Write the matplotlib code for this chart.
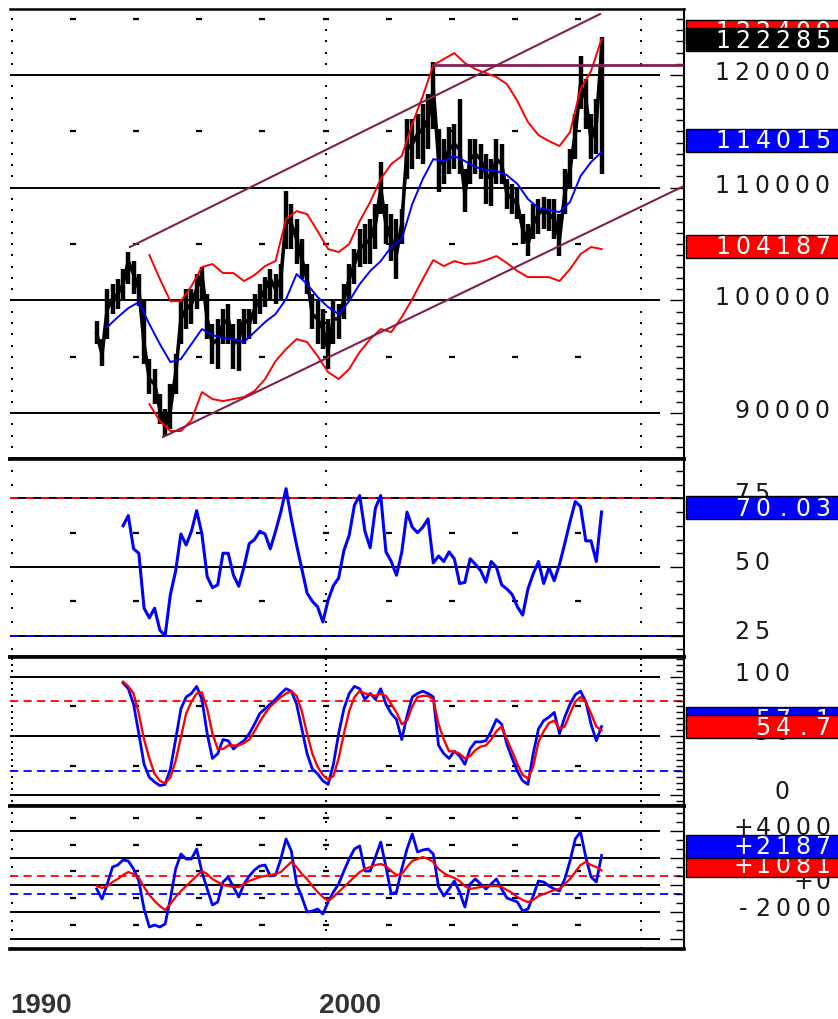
import numpy as np
import matplotlib
matplotlib.use("Agg")
import matplotlib.pyplot as plt
import matplotlib.transforms as mtransforms
from matplotlib.patches import Rectangle
from matplotlib.ticker import MultipleLocator

# ---------------- data (prices in thousands) ----------------
start_year = 1992.75
n_bars = 97
dates = start_year + np.arange(n_bars) / 6.0      # one bar every two months

close = [97.02, 95.24, 99.23, 100.12, 100.57, 101.45, 103.49, 102.34, 101.01, 96.13,
         93.02, 92.58, 90.36, 88.76, 90.36, 93.47, 98.35, 99.23, 99.68, 101.01,
         102.34, 98.35, 96.13, 96.57, 97.90, 98.35, 96.13, 96.57, 98.35, 97.90,
         99.23, 100.12, 101.01, 101.90, 101.01, 101.90, 107.22, 106.78, 105.45, 103.67,
         101.90, 98.79, 98.35, 97.46, 95.68, 98.35, 98.35, 100.12, 101.90, 103.23,
         104.56, 105.00, 105.45, 106.78, 109.88, 106.78, 105.45, 104.11, 106.78, 113.43,
         113.87, 114.76, 115.21, 116.09, 118.76, 112.54, 112.10, 113.43, 113.87, 113.43,
         109.44, 112.54, 112.99, 112.54, 111.21, 110.77, 112.54, 112.10, 109.44, 109.00,
         108.55, 106.33, 105.00, 106.78, 107.66, 108.11, 107.66, 107.22, 105.45, 109.44,
         111.66, 114.76, 119.20, 117.87, 114.32, 115.65, 122.285]
high = [98.17, 96.57, 101.01, 101.45, 101.90, 102.78, 104.29, 103.49, 102.34, 100.12,
        94.80, 93.91, 91.69, 90.36, 92.58, 95.24, 100.12, 101.01, 101.01, 102.34,
        102.96, 100.57, 97.90, 98.35, 99.23, 99.68, 97.90, 98.35, 99.23, 99.23,
        100.57, 101.45, 102.07, 102.78, 102.34, 103.23, 109.70, 108.55, 107.22, 105.45,
        103.23, 100.57, 100.12, 99.23, 98.35, 100.12, 99.68, 101.45, 103.23, 104.56,
        106.33, 106.78, 107.22, 108.55, 112.28, 108.55, 107.66, 107.22, 108.11, 116.09,
        116.09, 116.54, 117.42, 118.31, 121.15, 115.21, 114.32, 115.38, 115.65, 117.87,
        111.66, 114.32, 114.32, 113.87, 112.99, 112.54, 114.32, 113.87, 110.77, 110.33,
        109.88, 107.66, 106.78, 108.55, 109.00, 109.17, 109.00, 109.00, 107.66, 111.66,
        113.43, 116.54, 121.68, 119.64, 116.54, 117.87, 123.37]
low = [96.13, 94.18, 96.57, 98.79, 99.23, 100.12, 101.45, 100.57, 99.50, 94.35,
       91.69, 90.80, 89.03, 87.96, 88.59, 91.69, 96.13, 97.46, 97.90, 99.23,
       100.12, 96.57, 94.35, 93.91, 96.13, 96.13, 93.91, 93.73, 96.13, 96.57,
       97.90, 98.79, 99.41, 100.12, 99.68, 100.12, 104.56, 104.56, 103.23, 101.90,
       100.57, 97.46, 96.13, 95.68, 93.91, 96.13, 96.57, 98.35, 100.12, 101.45,
       102.96, 103.23, 103.23, 104.56, 107.66, 105.00, 103.49, 101.90, 105.00, 110.77,
       111.66, 112.54, 112.10, 113.43, 115.21, 109.62, 110.33, 111.21, 111.66, 111.21,
       107.84, 110.33, 111.21, 110.77, 108.55, 108.37, 110.33, 110.33, 108.11, 107.66,
       107.22, 105.00, 103.94, 105.45, 105.89, 106.33, 106.15, 105.45, 103.94, 107.66,
       109.88, 112.54, 116.98, 115.21, 112.54, 112.99, 111.21]

# moving average and bands, sampled every second bar
band_dates = dates[::2]
nan = np.nan
ma = [nan, 97.64, 98.52, 99.32, 99.85, 97.90, 96.13, 94.53, 94.80, 96.13,
      97.46, 96.93, 96.66, 96.57, 96.31, 97.19, 98.08, 98.79, 100.12, 102.34,
      101.45, 100.30, 99.41, 98.79, 99.94, 101.45, 102.61, 103.49, 104.74, 105.45,
      108.55, 110.77, 112.54, 112.37, 112.81, 112.37, 111.83, 111.57, 111.48, 111.12,
      110.33, 109.00, 108.20, 108.02, 107.84, 108.73, 111.03, 112.28, 113.16]
upper = [nan, nan, nan, nan, nan, 104.03, 101.90, 99.94, 99.94, 101.27,
         102.96, 103.23, 102.43, 102.43, 101.72, 102.25, 103.05, 103.49, 107.22, 107.93,
         107.66, 106.15, 104.56, 104.29, 105.00, 107.04, 108.73, 110.77, 112.10, 112.81,
         115.65, 118.13, 120.88, 121.42, 121.95, 121.06, 120.53, 120.17, 119.82, 119.20,
         117.69, 115.83, 114.67, 114.14, 113.70, 114.94, 118.76, 120.35, 123.19]
lower = [nan, nan, nan, nan, nan, 90.80, 89.30, 88.41, 88.41, 89.38,
         91.87, 91.25, 91.07, 91.25, 91.43, 91.96, 93.02, 94.62, 95.68, 96.57,
         96.31, 95.06, 93.64, 93.02, 93.91, 95.42, 96.57, 97.46, 97.19, 98.52,
         100.12, 101.90, 103.58, 103.05, 103.49, 103.23, 103.32, 103.58, 103.94, 103.32,
         102.61, 102.07, 102.07, 102.07, 101.72, 102.78, 104.11, 104.74, 104.56]

# trend channel and resistance (year, price)
channel_upper = [(1993.80, 104.74), (2008.70, 125.41)]
channel_lower = [(1994.85, 87.88), (2011.36, 110.15)]
resistance = [(2003.41, 120.9), (2011.36, 120.9)]

# indicators start at the sixth bar
ind_dates = dates[5:]
rsi = [65, 68.7, 56.6, 55, 35, 31.5, 35, 27, 25, 40,
       48.5, 62, 58, 63, 70.5, 62, 46.5, 42.5, 43.5, 55,
       55, 47, 43, 50, 58.5, 60, 63, 62, 56.6, 63,
       70, 78.5, 67.5, 58, 49.3, 40.5, 37.5, 35.5, 30, 38,
       43.2, 46, 56, 61.5, 72.5, 76, 63, 57, 71.5, 76,
       55.5, 52, 47, 55.3, 70, 64.5, 62.5, 64.5, 67.5, 51.5,
       54, 52, 55.5, 53, 44, 44.4, 53, 51, 48.7, 44.5,
       52, 50, 43.5, 42, 40, 35.5, 32.5, 42, 47.5, 52,
       44, 49.8, 45, 51, 58.5, 66.5, 73.8, 72, 59.5, 59.5,
       52, 70.03]
stoch_k = [95, 90, 77, 52, 26, 15, 11, 8, 9, 22,
           47, 73, 83, 86, 92, 81, 52, 31, 35, 47,
           46, 39, 43, 46, 52, 60, 69, 73, 77, 81,
           86, 90, 88, 77, 56, 35, 22, 18, 12, 9,
           26, 52, 73, 86, 92, 90, 81, 86, 81, 90,
           77, 69, 64, 47, 67, 83, 86, 88, 86, 83,
           42, 35, 31, 37, 33, 26, 39, 45, 45, 46,
           54, 64, 60, 43, 31, 20, 12, 9, 35, 56,
           63, 66, 70, 52, 66, 77, 85, 88, 79, 60,
           46, 58]
stoch_d = [96, 92, 86, 69, 47, 31, 18, 12, 10, 15,
           29, 49, 69, 79, 86, 87, 73, 52, 39, 39,
           42, 42, 42, 44, 47, 54, 62, 69, 75, 79,
           83, 86, 88, 84, 71, 52, 35, 24, 17, 13,
           16, 31, 52, 71, 83, 88, 86, 85, 84, 86,
           84, 77, 70, 60, 63, 75, 83, 84, 84, 81,
           60, 47, 37, 37, 35, 31, 33, 38, 41, 42,
           47, 54, 58, 47, 37, 26, 17, 14, 24, 45,
           54, 61, 63, 56, 58, 69, 79, 83, 79, 69,
           58, 54.7]
macd = [-296, -1037, 74, 1333, 1481, 1852, 1778, 1185, 296, -1778,
        -3111, -2963, -3111, -2889, -1037, 1185, 2296, 1926, 1926, 2667,
        963, -296, -1481, -1259, 222, 593, -148, -889, 74, 667,
        1111, 1407, 1481, 667, 741, 1926, 3407, 2519, 74, -889,
        -2000, -1926, -1778, -2148, -1259, -519, 74, 1037, 1926, 2667,
        2889, 1037, 1037, 2074, 3185, 1333, -667, -519, 1185, 2667,
        3778, 2444, 2593, 2667, 2296, -148, -815, -296, 296, -519,
        -1630, 74, 444, 74, -296, 74, 444, -296, -963, -1111,
        -1259, -1926, -1778, -815, 296, 222, -74, -296, -444, 444,
        1778, 3407, 3926, 2074, 593, 222, 2187]
macd_signal = [-74, -222, -74, 222, 444, 741, 963, 815, 519, -148,
               -741, -1185, -1556, -1852, -1407, -889, -444, -74, 296, 667,
               1037, 815, 444, 222, 0, -74, -148, -148, 74, 296,
               444, 593, 667, 741, 815, 963, 1333, 1704, 1333, 815,
               444, -74, -519, -889, -1185, -889, -519, -148, 222, 593,
               963, 1185, 1333, 1481, 1556, 1407, 1037, 741, 815, 1333,
               1778, 1926, 2074, 1926, 1704, 1185, 889, 667, 519, 296,
               -74, -296, -222, -148, -74, -74, -74, -148, -370, -593,
               -889, -1111, -1259, -1111, -815, -667, -519, -370, -296, 74,
               444, 963, 1481, 1704, 1481, 1333, 1081]

# right-hand scale labels and last-value boxes
price_ticks = [120, 110, 100, 90]
price_tick_text = ["120000", "110000", "100000", "90000"]
rsi_ticks = [75, 50, 25]
stoch_ticks = [100, 50, 0]
macd_ticks = [4000, 0, -2000]
macd_tick_text = ["+4000", "+0", "-2000"]
year_labels = [1990, 2000]

# ---------------- layout ----------------
W, H = 838, 1020
PX_PER_YEAR = 31.55
X0 = 1990.0
X1 = X0 + 674 / PX_PER_YEAR
GRID_END = X0 + 650 / PX_PER_YEAR
PT = 0.72          # points per pixel at 100 dpi
PITCH = 20         # px per character of the scale font
FSIZE = 17
RED, BLUE, MAROON = "#ff0000", "#0000ff", "#802050"

fig = plt.figure(figsize=(W / 100, H / 100), dpi=100)


def panel(top, bottom):
    ax = fig.add_axes([10 / W, 1 - bottom / H, 674 / W, (bottom - top) / H])
    ax.set_xlim(X0, X1)
    ax.set_xticks([])
    ax.spines["left"].set_visible(False)
    for s in ("top", "bottom"):
        ax.spines[s].set_linewidth(2.6)
    ax.spines["right"].set_linewidth(1.5)
    ax.yaxis.tick_right()
    ax.tick_params(axis="y", which="both", direction="in", labelright=False, width=1)
    ax.tick_params(axis="y", which="major", length=10)
    ax.tick_params(axis="y", which="minor", length=5.5)
    return ax


def decorate(ax, ylim, solid, marks, dot_step, major):
    ax.set_ylim(*ylim)
    ax.yaxis.set_major_locator(MultipleLocator(major))
    ax.yaxis.set_minor_locator(MultipleLocator(dot_step))
    for v in solid:
        ax.hlines(v, X0, GRID_END, color="black", lw=1.4, zorder=1)
    yrs = np.arange(1992, 2010, 2)
    for v in marks:
        ax.plot(yrs, np.full(len(yrs), v), ls="none", marker="_", ms=4.5, mew=1.6,
                color="black", zorder=1)
    dots = np.arange(np.ceil(ylim[0] / dot_step) * dot_step, ylim[1], dot_step)
    for yr in (1990.06, 2000, 2010):
        ax.plot(np.full(len(dots), yr), dots, ls="none", marker="s", ms=1.7, mew=0,
                color="black", zorder=1, clip_on=False)


def spaced(ax, yval, s, right_px, color, up=0, z=4):
    # the old screen font: every character sits in a fixed 20 px cell
    n = len(s)
    for k, ch in enumerate(s):
        cx = right_px - PITCH * (n - 1 - k) - PITCH / 2
        ax.annotate(ch, (1, yval), xycoords=("axes fraction", "data"),
                    xytext=((cx - 684) * PT, up * PT), textcoords="offset points",
                    ha="center", va="center", fontsize=FSIZE, color=color,
                    zorder=z, annotation_clip=False)


def value_box(ax, yval, s, face, z):
    lo, hi = ax.get_ylim()
    ax_px = ax.get_position().height * H
    hh = 23 * (hi - lo) / ax_px
    trans = mtransforms.blended_transform_factory(fig.transFigure, ax.transData)
    ax.add_patch(Rectangle((686 / W, yval - hh / 2), (W - 686) / W + 0.01, hh,
                           transform=trans, facecolor=face, edgecolor="black",
                           lw=1, clip_on=False, zorder=z))
    spaced(ax, yval, s, 833, "white", up=0, z=z + 0.5)


ax_p = panel(10, 460)
ax_r = panel(460, 658)
ax_s = panel(658, 807)
ax_m = panel(807, 950)
ax_p.spines["top"].set_linewidth(1.8)

# ---- price panel ----
decorate(ax_p, (85.93, 125.86), [90, 100, 110, 120], [95, 105, 115, 125], 1.0, 10)
ax_p.vlines(dates, low, high, color="black", lw=3.2, zorder=2)
ax_p.plot(dates, close, color="black", lw=2.6, zorder=2)
ax_p.plot(band_dates, upper, color=RED, lw=1.4, zorder=3)
ax_p.plot(band_dates, lower, color=RED, lw=1.4, zorder=3)
ax_p.plot(band_dates, ma, color=BLUE, lw=1.4, zorder=3)
for line, lw in ((channel_upper, 1.5), (channel_lower, 1.5), (resistance, 2.0)):
    xs, ys = zip(*line)
    ax_p.plot(xs, ys, color=MAROON, lw=lw, zorder=3)
for v, t in zip(price_ticks, price_tick_text):
    spaced(ax_p, v, t, 832, "#1a1a1a", up=3)
value_box(ax_p, 123.90, "122409", RED, 5)
value_box(ax_p, 123.11, "122285", "black", 6)
value_box(ax_p, 114.23, "114015", BLUE, 7)
value_box(ax_p, 104.83, "104187", RED, 8)

# ---- RSI panel ----
decorate(ax_r, (17.25, 89.3), [50], [62.5, 37.5], 5, 25)
ax_r.axhline(75, color="black", lw=1.4, zorder=1)
ax_r.axhline(75, color=RED, lw=1.4, dashes=(4, 4), zorder=1)
ax_r.axhline(25, color="black", lw=1.4, zorder=1)
ax_r.axhline(25, color=BLUE, lw=1.4, dashes=(4, 4), zorder=1)
ax_r.plot(ind_dates, rsi, color=BLUE, lw=2.2, zorder=3)
for v in rsi_ticks:
    spaced(ax_r, v, str(v), 772, "#1a1a1a", up=5)
value_box(ax_r, 71.47, "70.03", BLUE, 6)

# ---- stochastic panel ----
decorate(ax_s, (-9.3, 116.9), [0, 50, 100], [75, 25], 5, 50)
ax_s.axhline(80, color=RED, lw=1.3, dashes=(4.5, 3), zorder=1)
ax_s.axhline(20, color=BLUE, lw=1.3, dashes=(4.5, 3), zorder=1)
ax_s.plot(ind_dates, stoch_k, color=BLUE, lw=2.0, zorder=3)
ax_s.plot(ind_dates, stoch_d, color=RED, lw=1.7, zorder=3)
for v in stoch_ticks:
    spaced(ax_s, v, str(v), 792, "#1a1a1a", up=4)
value_box(ax_s, 64.4, "57.1", BLUE, 6)
value_box(ax_s, 58.0, "54.7", RED, 7)

# ---- MACD panel ----
decorate(ax_m, (-4741, 5852), [-4000, -2000, 0, 2000, 4000],
         [5000, 3000, 1000, -1000, -3000], 2000 / 3, 2000)
ax_m.axhline(700, color=RED, lw=1.3, dashes=(4.5, 3), zorder=1)
ax_m.axhline(-700, color=BLUE, lw=1.3, dashes=(4.5, 3), zorder=1)
ax_m.plot(dates, macd, color=BLUE, lw=2.0, zorder=3)
ax_m.plot(dates, macd_signal, color=RED, lw=1.6, zorder=3)
for v, t in zip(macd_ticks, macd_tick_text):
    spaced(ax_m, v, t, 833, "#1a1a1a", up=4)
value_box(ax_m, 1481, "+1081", RED, 6)
value_box(ax_m, 2852, "+2187", BLUE, 7)

# ---- year labels under the chart ----
ytrans = mtransforms.blended_transform_factory(ax_m.transData, fig.transFigure)
for yr in year_labels:
    ax_m.text(yr - 0.2 * (yr == 2000), 1 - 1006 / H, str(yr), transform=ytrans,
              ha="left", va="center", fontsize=20, fontweight="bold",
              family="Liberation Sans", color="#333333", clip_on=False)

fig.savefig("out.png", dpi=100)
